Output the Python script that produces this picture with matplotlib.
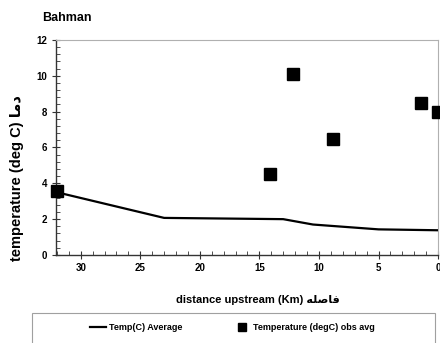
import matplotlib.pyplot as plt
from matplotlib.patches import Rectangle
from matplotlib.ticker import MultipleLocator

# Bahman: mean temperature profile vs observed averages
avg_dist = [32, 23, 13, 10.5, 5, 0]
avg_temp = [3.5, 2.07, 2.0, 1.7, 1.43, 1.38]

obs_dist = [32, 14.1, 12.2, 8.8, 1.4, 0]
obs_temp = [3.55, 4.5, 10.1, 6.5, 8.5, 8.0]

title = "Bahman"
# Persian words written in presentation forms so they show joined and right-to-left
ylabel = "temperature (deg C) \uFE8E\uFEE3\uFEA9"
xlabel = "distance upstream (Km) \uFEEA\uFEE0\uFEBB\uFE8E\uFED3"
avg_label = "Temp(C) Average"
obs_label = "Temperature (degC) obs avg"

fam = ["Liberation Sans Narrow", "Liberation Sans", "DejaVu Sans"]
plt.rcParams["font.family"] = fam

fig = plt.figure(figsize=(4.4, 3.43), dpi=100)
ax = fig.add_axes([0.1266, 0.2566, 0.869, 0.6268])

ax.plot(avg_dist, avg_temp, color="black", lw=1.6, label=avg_label, zorder=3)
ax.plot(obs_dist, obs_temp, ls="none", marker="s", ms=8.5, color="black",
        label=obs_label, zorder=4, clip_on=False)

ax.set_xlim(32.1, 0)
ax.set_ylim(0, 12)
ax.xaxis.set_major_locator(MultipleLocator(5))
ax.xaxis.set_minor_locator(MultipleLocator(1))
ax.yaxis.set_major_locator(MultipleLocator(2))
ax.yaxis.set_minor_locator(MultipleLocator(0.4))

for side in ("top", "right"):
    ax.spines[side].set_color("#b0b0b0")
    ax.spines[side].set_linewidth(0.8)
for side in ("left", "bottom"):
    ax.spines[side].set_color("#333333")
    ax.spines[side].set_linewidth(1.0)

ax.tick_params(which="major", direction="inout", length=6, width=0.8,
               color="#333333", labelsize=7, pad=3)
ax.tick_params(which="minor", direction="in", length=3, width=0.6,
               color="#333333")
for lbl in ax.get_xticklabels() + ax.get_yticklabels():
    lbl.set_fontweight("bold")

fig.text(0.095, 0.948, title, fontsize=9, fontweight="bold", va="center")
fig.text(0.039, 0.481, ylabel, fontsize=10.5, fontweight="bold",
         rotation=90, ha="center", va="center", family=fam)
fig.text(0.585, 0.125, xlabel, fontsize=8, fontweight="bold",
         ha="center", va="center", family=fam)

# legend box runs off the bottom of the picture
fig.patches.append(Rectangle((0.0727, -0.05), 0.916, 0.1375,
                             transform=fig.transFigure, fill=False,
                             edgecolor="#a0a0a0", lw=0.8))
handles, labels = ax.get_legend_handles_labels()
leg = fig.legend(handles, labels, loc="center", bbox_to_anchor=(0.528, 0.044),
                 ncol=2, frameon=False, fontsize=6.5, handlelength=1.8,
                 handletextpad=0.3, columnspacing=5.8, markerscale=0.6)
for t in leg.get_texts():
    t.set_fontweight("bold")

fig.savefig("out.png", dpi=100)
